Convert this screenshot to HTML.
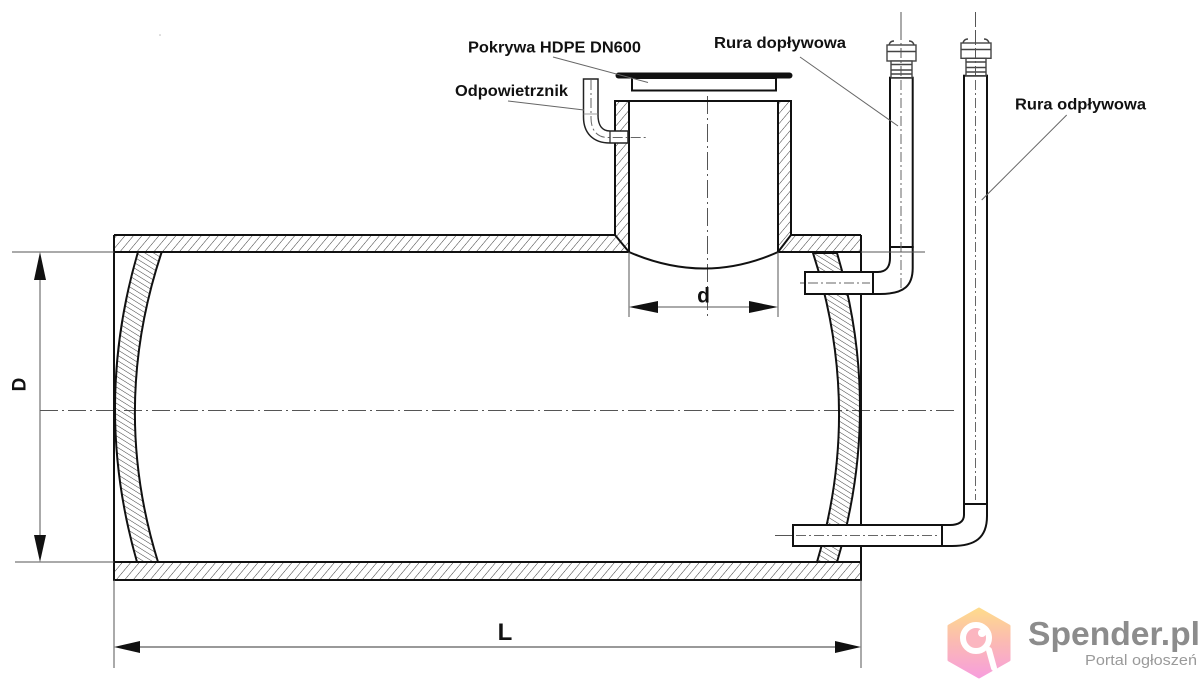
<!DOCTYPE html>
<html><head><meta charset="utf-8"><style>
html,body{margin:0;padding:0;background:#fff}
svg{display:block}
text{font-family:"Liberation Sans",Arial,sans-serif}
</style></head><body>
<svg width="1200" height="680" viewBox="0 0 1200 680" xmlns="http://www.w3.org/2000/svg">
<defs>
<pattern id="h1" patternUnits="userSpaceOnUse" width="6.5" height="6.5" patternTransform="rotate(40)">
<line x1="0" y1="0" x2="0" y2="6.5" stroke="#3a3a3a" stroke-width="1"/>
</pattern>
<pattern id="h2" patternUnits="userSpaceOnUse" width="4.6" height="4.6" patternTransform="rotate(-58)">
<line x1="0" y1="0" x2="0" y2="4.6" stroke="#3a3a3a" stroke-width="1"/>
</pattern>
<linearGradient id="hg" x1="0" y1="0" x2="0" y2="1">
<stop offset="0" stop-color="#fedb8c"/>
<stop offset="0.5" stop-color="#fbb9b4"/>
<stop offset="1" stop-color="#f79fdc"/>
</linearGradient>
</defs>
<rect width="1200" height="680" fill="#fff"/>
<circle cx="160" cy="35" r="0.8" fill="#bbb"/>

<!-- centre lines -->
<g stroke="#555" stroke-width="1" fill="none" stroke-dasharray="18,4,2,4">
<line x1="40" y1="410.5" x2="957" y2="410.5"/>
<line x1="707.5" y1="96" x2="707.5" y2="318"/>
<path d="M800,283 H878 C895,283 901,275 901,260 V12"/>
<path d="M775,535.5 H950 C970,535.5 975.5,525 975.5,510 V12"/>
</g>

<!-- tank walls hatched -->
<path d="M114,235 H615 V101 H629 V252 H114 Z" fill="url(#h1)"/>
<path d="M861,235 H791 V101 H778 V252 H861 Z" fill="url(#h1)"/>
<rect x="114" y="562" width="747" height="18" fill="url(#h1)"/>
<g stroke="#111" stroke-width="2" fill="none">
<path d="M114,235 H615 V101 H791 V235 H861"/>
<path d="M629,101 V252"/><path d="M778,101 V252"/>
<path d="M615,235 L629,252"/><path d="M791,235 L778,252"/>
<path d="M114,252 H629"/><path d="M778,252 H861"/>
<path d="M629,252 Q705,285 778,252"/>
<rect x="114" y="562" width="747" height="18"/>
<line x1="114" y1="235" x2="114" y2="580"/>
<line x1="861" y1="235" x2="861" y2="580"/>
</g>

<!-- end plates -->
<path d="M138,252 Q92.5,407 137,562 L158,562 Q110,407 161.7,252 Z" fill="url(#h2)" stroke="#111" stroke-width="2"/>
<path d="M813,253 Q863,408 817,562 L837,562 Q883,408 837,253 Z" fill="url(#h2)" stroke="#111" stroke-width="2"/>

<!-- cover -->
<rect x="615.5" y="72.5" width="177" height="6" rx="3" fill="#111"/>
<rect x="632" y="78" width="144" height="12.5" fill="#fff" stroke="#111" stroke-width="2"/>

<!-- vent pipe -->
<path d="M583.5,79 H598 V115 C598,125 602,131 610,131 H628 V143 H610 C593,143 583.5,133 583.5,117 Z" fill="#fff" stroke="#222" stroke-width="1.5"/>
<line x1="610" y1="131" x2="610" y2="143" stroke="#222" stroke-width="1.2"/>
<line x1="583.5" y1="114" x2="598" y2="114" stroke="#888" stroke-width="0.8"/>
<path d="M591,80 V118 C591,130 597,137.5 608,137.5 H648" stroke="#666" stroke-width="1" fill="none" stroke-dasharray="10,3,2,3"/>

<!-- inlet pipe -->
<g stroke="#111" stroke-width="2" fill="#fff">
<rect x="890" y="77.7" width="22.7" height="169.3"/>
<path d="M890,247 L890,258 C890,268 885,272 878,272 L873,272 L873,294 L880,294 C905,294 912.7,285 912.7,268 L912.7,247 Z"/>
<rect x="805" y="272" width="68" height="22"/>
</g>
<!-- outlet pipe -->
<g stroke="#111" stroke-width="2" fill="#fff">
<rect x="964" y="75.7" width="23" height="428.3"/>
<path d="M964,504 L964,515 C964,522 958,525 950,525 L942,525 L942,546 L952,546 C975,546 987,538 987,516 L987,504 Z"/>
<rect x="793" y="525" width="149" height="21"/>
</g>
<g stroke="#666" stroke-width="1" fill="none" stroke-dasharray="10,3,2,3">
<line x1="901" y1="80" x2="901" y2="290"/>
<line x1="975.5" y1="80" x2="975.5" y2="500"/>
<line x1="808" y1="283" x2="870" y2="283"/>
<line x1="796" y1="535.5" x2="940" y2="535.5"/>
</g>

<!-- fittings -->
<g stroke="#444" stroke-width="1.4" fill="#fff">
<rect x="887" y="45" width="29" height="16"/>
<line x1="887" y1="51.5" x2="916" y2="51.5"/>
<rect x="891" y="61" width="21" height="16.7"/>
<line x1="891" y1="64.5" x2="912" y2="64.5"/><line x1="891" y1="70" x2="912" y2="70"/><line x1="891" y1="74" x2="912" y2="74"/>
<path d="M889,45 Q890,41 894,41 M914,45 Q913,41 909,41" fill="none"/>
<rect x="961" y="43" width="30" height="15.3"/>
<line x1="961" y1="49.5" x2="991" y2="49.5"/>
<rect x="966" y="58.3" width="20" height="17.4"/>
<line x1="966" y1="62" x2="986" y2="62"/><line x1="966" y1="67.5" x2="986" y2="67.5"/><line x1="966" y1="72" x2="986" y2="72"/>
<path d="M963,43 Q964,39 968,39 M989,43 Q988,39 984,39" fill="none"/>
</g>
<g stroke="#555" stroke-width="1" stroke-dasharray="10,3,2,3">
<line x1="901" y1="12" x2="901" y2="77"/>
<line x1="975.5" y1="12" x2="975.5" y2="75"/>
</g>

<!-- dimension/extension lines -->
<g stroke="#555" stroke-width="1" fill="none">
<line x1="12" y1="252" x2="114" y2="252"/>
<line x1="15" y1="562" x2="114" y2="562"/>
<line x1="40" y1="270" x2="40" y2="545"/>
<line x1="861" y1="252" x2="925" y2="252"/>
<line x1="629" y1="252" x2="629" y2="317"/>
<line x1="778" y1="252" x2="778" y2="317"/>
<line x1="645" y1="307" x2="762" y2="307"/>
<line x1="114" y1="580" x2="114" y2="668"/>
<line x1="861" y1="580" x2="861" y2="668"/>
</g>
<line x1="130" y1="647" x2="845" y2="647" stroke="#999" stroke-width="2"/>
<g fill="#111">
<polygon points="40,252 34,280 46,280"/>
<polygon points="40,562 34,535 46,535"/>
<polygon points="629,307 658,301 658,313"/>
<polygon points="778,307 749,301 749,313"/>
<polygon points="114,647 140,641 140,653"/>
<polygon points="861,647 835,641 835,653"/>
</g>

<!-- leader lines -->
<g stroke="#666" stroke-width="1">
<line x1="553" y1="57" x2="648" y2="82.5"/>
<line x1="508" y1="101" x2="584" y2="110"/>
<line x1="800" y1="57" x2="898" y2="126"/>
<line x1="1066.7" y1="115" x2="981.7" y2="200"/>
</g>

<!-- labels -->
<g font-weight="bold" fill="#111">
<text x="468" y="52.3" font-size="16" textLength="173" lengthAdjust="spacingAndGlyphs">Pokrywa HDPE DN600</text>
<text x="455" y="96" font-size="16" textLength="113" lengthAdjust="spacingAndGlyphs">Odpowietrznik</text>
<text x="714" y="48" font-size="16" textLength="132" lengthAdjust="spacingAndGlyphs">Rura dopływowa</text>
<text x="1015" y="109.5" font-size="16" textLength="131" lengthAdjust="spacingAndGlyphs">Rura odpływowa</text>
<text x="703.5" y="302.5" font-size="21" text-anchor="middle">d</text>
<text x="505" y="640" font-size="24" text-anchor="middle">L</text>
<text transform="translate(25.5,384.5) rotate(-90)" font-size="19" text-anchor="middle">D</text>
</g>

<!-- watermark -->
<g>
<polygon points="979,609 1009,626 1009,660 979,677 949,660 949,626" fill="url(#hg)" stroke="url(#hg)" stroke-width="3" stroke-linejoin="round"/>
<line x1="989" y1="650" x2="994" y2="668" stroke="#fff" stroke-width="6" stroke-linecap="round"/>
<circle cx="976" cy="638" r="13" fill="#fbb6c0" stroke="#fff" stroke-width="6"/>
<circle cx="982" cy="633" r="4" fill="#fff"/>
<text x="1028" y="645" font-size="33" font-weight="bold" fill="#8c8c8c" textLength="172" lengthAdjust="spacingAndGlyphs">Spender.pl</text>
<text x="1085" y="665" font-size="15" fill="#9a9a9a" textLength="112" lengthAdjust="spacingAndGlyphs">Portal ogłoszeń</text>
</g>
</svg>
</body></html>
